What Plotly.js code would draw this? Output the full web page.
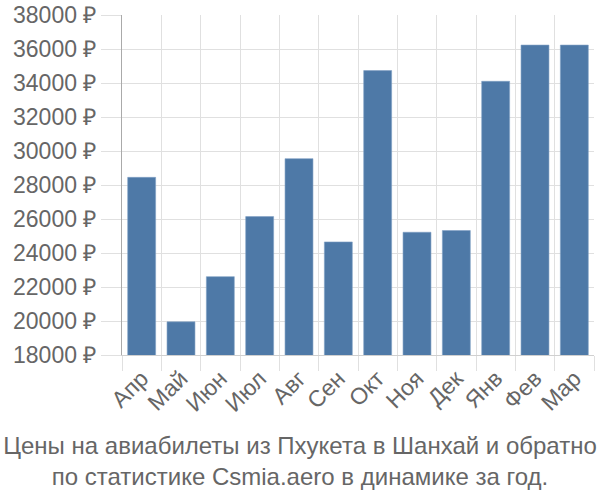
<!DOCTYPE html>
<html><head><meta charset="utf-8">
<script src="https://cdn.plot.ly/plotly-3.0.1.min.js"></script>
<style>html,body{margin:0;padding:0;background:#fff}</style>
</head><body>
<div id="chart" style="width:600px;height:500px"></div>
<script>
const months = ['Апр','Май','Июн','Июл','Авг','Сен','Окт','Ноя','Дек','Янв','Фев','Мар'];
const prices = [28450, 19950, 22610, 26140, 29550, 24650, 34730, 25220, 25320, 34100, 36230, 36230];
const titleLines = ['Цены на авиабилеты из Пхукета в Шанхай и обратно', 'по статистике Csmia.aero в динамике за год.'];

const trace = {
  type: 'bar',
  x: months,
  y: prices,
  marker: {color: '#4e79a7', line: {color: '#7f9fc4', width: 0.6}},
  hoverinfo: 'none'
};
const layout = {
  width: 600, height: 500,
  margin: {l: 122, r: 6, t: 15, b: 145},
  paper_bgcolor: '#fff', plot_bgcolor: '#fff',
  bargap: 0.29,
  font: {family: 'Liberation Sans, Arial, sans-serif', color: '#666', size: 23},
  showlegend: false,
  title: {
    text: titleLines.join('<br>'),
    font: {size: 24, color: '#666'},
    x: 0.5, xanchor: 'center', xref: 'container',
    y: 0.093, yref: 'container', yanchor: 'middle'
  },
  xaxis: {
    type: 'category',
    tickson: 'boundaries',
    showgrid: true, gridcolor: '#e0e0e0', gridwidth: 1,
    ticks: 'outside', ticklen: 15, tickcolor: '#e0e0e0',
    tickangle: -45,
    tickfont: {size: 23, color: '#666'},
    showline: true, linecolor: '#d0d0d0', linewidth: 1,
    zeroline: false
  },
  yaxis: {
    range: [18000, 38000],
    dtick: 2000, tick0: 18000,
    tickformat: 'd', ticksuffix: ' ₽',
    showgrid: true, gridcolor: '#e0e0e0', gridwidth: 1,
    ticks: 'outside', ticklen: 20, tickcolor: '#e0e0e0',
    tickfont: {size: 23, color: '#666'},
    showline: true, linecolor: '#aaaaaa', linewidth: 1,
    zeroline: false
  }
};
Plotly.newPlot('chart', [trace], layout, {displayModeBar: false, staticPlot: true});
</script>
</body></html>
